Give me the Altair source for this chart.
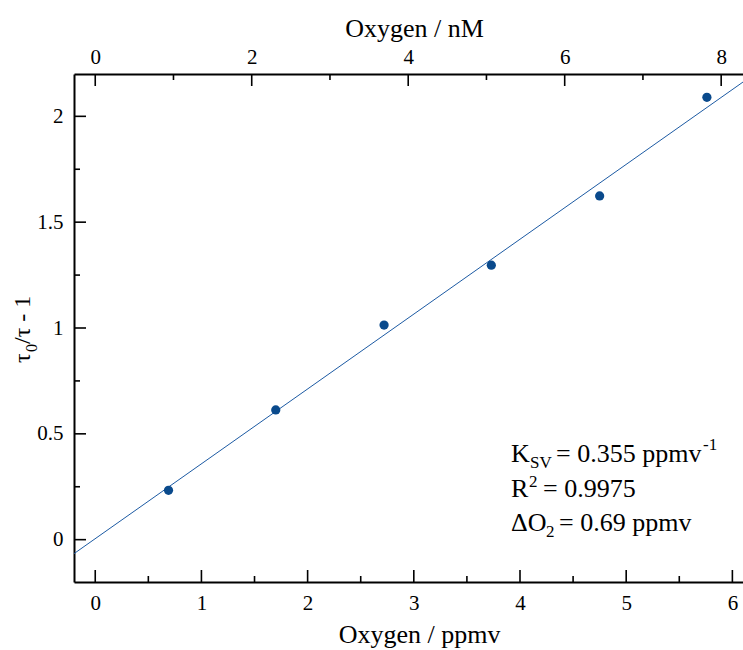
import altair as alt
import pandas as pd

# ---------------- data ----------------
ppmv = [0.69, 1.70, 2.72, 3.73, 4.75, 5.76]
ratio = [0.233, 0.613, 1.014, 1.297, 1.624, 2.090]
fit_x = [-0.2, 6.1]
fit_y = [-0.066, 2.162]

x_major = [0, 1, 2, 3, 4, 5, 6]
x_minor = [0.5, 1.5, 2.5, 3.5, 4.5, 5.5]
nm_major = [0, 2, 4, 6, 8]
nm_minor = [1, 3, 5, 7]
y_major = [0, 0.5, 1, 1.5, 2]
y_minor = [0.25, 0.75, 1.25, 1.75]

x_title = "Oxygen / ppmv"
top_title = "Oxygen / nM"
y_title_parts = ["τ", "0", "/τ - 1"]
ann_k = ["K", "SV", "= 0.355 ppmv", "-1"]
ann_r = ["R", "2", "= 0.9975"]
ann_d = ["ΔO", "2", "= 0.69 ppmv"]

X_DOMAIN = [-0.2, 6.1]
NM_PER_PPMV = 1.3572
NM_DOMAIN = [X_DOMAIN[0] * NM_PER_PPMV, X_DOMAIN[1] * NM_PER_PPMV]
Y_DOMAIN = [-0.2, 2.2]

# ---------------- styling ----------------
W, H = 669, 508
FONT = "Liberation Serif"
PT = "#0a4a8c"
LN = "#1c5aa3"
MAJ, MIN = 12, 6

xs = alt.Scale(domain=X_DOMAIN, nice=False, zero=False)
xn = alt.Scale(domain=NM_DOMAIN, nice=False, zero=False)
ys = alt.Scale(domain=Y_DOMAIN, nice=False, zero=False)

common_axis = dict(
    ticks=False, tickSize=0, grid=False, domainColor="black", domainWidth=2,
    labelFont=FONT, labelFontSize=21, labelColor="black", labelFlush=False,
    labelOverlap=False, labelBound=False, titleFont=FONT, titleFontSize=26,
    titleFontWeight="normal", titleColor="black", format="~g",
)

bottom_axis = alt.Axis(values=x_major, orient="bottom", title=x_title,
                       labelPadding=10, titleY=60, titleX=345,
                       titleAlign="center", titleBaseline="alphabetic",
                       **common_axis)
left_axis = alt.Axis(values=y_major, orient="left", title=None,
                     labelPadding=11, **common_axis)
top_axis = alt.Axis(values=nm_major, orient="top", title=top_title,
                    labelPadding=7, titleY=-38, titleX=340,
                    titleAlign="center", titleBaseline="alphabetic",
                    **common_axis)

fit = alt.Chart(pd.DataFrame({"x": fit_x, "y": fit_y})).mark_line(
    color=LN, strokeWidth=1, clip=True
).encode(
    x=alt.X("x:Q", scale=xs, axis=bottom_axis),
    y=alt.Y("y:Q", scale=ys, axis=left_axis),
)

points = alt.Chart(pd.DataFrame({"x": ppmv, "y": ratio})).mark_circle(
    size=85, opacity=1, color=PT
).encode(
    x=alt.X("x:Q", scale=xs, axis=None),
    y=alt.Y("y:Q", scale=ys, axis=None),
)


def xticks(vals, scale, length, top=False, axis=None):
    y0 = 0 if top else H
    y1 = length if top else H - length
    return alt.Chart(pd.DataFrame({"v": vals})).mark_rule(
        color="black", strokeWidth=1.6
    ).encode(
        x=alt.X("v:Q", scale=scale, axis=axis),
        y=alt.value(y0), y2=alt.value(y1),
    )


def yticks(vals, length):
    return alt.Chart(pd.DataFrame({"v": vals})).mark_rule(
        color="black", strokeWidth=1.6
    ).encode(
        y=alt.Y("v:Q", scale=ys, axis=None),
        x=alt.value(0), x2=alt.value(length),
    )


def label(txt, x, y, size, angle=0):
    return alt.Chart(pd.DataFrame({"t": [txt]})).mark_text(
        font=FONT, fontSize=size, align="left", baseline="alphabetic",
        color="black", angle=angle
    ).encode(text="t:N", x=alt.value(x), y=alt.value(y))


ox, oy = 74, 74  # plot origin on the page
A, S = 26, 17
B1, B2, B3 = 462, 497, 531  # annotation baselines (page pixels)

texts = [
    # y title (rotated)
    label(y_title_parts[0], 30 - ox, 363 - oy, 24, 270),
    label(y_title_parts[1], 37 - ox, 352 - oy, 16, 270),
    label(y_title_parts[2], 30 - ox, 344 - oy, 24, 270),
    # annotation
    label(ann_k[0], 511 - ox, B1 - oy, A),
    label(ann_k[1], 530 - ox, B1 + 6 - oy, S),
    label(ann_k[2], 556 - ox, B1 - oy, A),
    label(ann_k[3], 703 - ox, B1 - 12 - oy, S),
    label(ann_r[0], 511 - ox, B2 - oy, A),
    label(ann_r[1], 529 - ox, B2 - 10 - oy, S),
    label(ann_r[2], 543 - ox, B2 - oy, A),
    label(ann_d[0], 511 - ox, B3 - oy, A),
    label(ann_d[1], 546 - ox, B3 + 6 - oy, S),
    label(ann_d[2], 559 - ox, B3 - oy, A),
]

chart = alt.layer(
    fit,
    points,
    xticks(x_major, xs, MAJ),
    xticks(x_minor, xs, MIN),
    xticks(nm_major, xn, MAJ, top=True, axis=top_axis),
    xticks(nm_minor, xn, MIN, top=True),
    yticks(y_major, MAJ),
    yticks(y_minor, MIN),
    *texts,
).resolve_scale(
    x="independent", y="independent"
).properties(
    width=W, height=H,
    padding={"left": ox, "top": oy, "right": 0, "bottom": 650 - oy - H},
    autosize=alt.AutoSizeParams(type="none"),
    background="white",
).configure_view(stroke=None)

chart.save("out.html", embed_options={"renderer": "svg", "actions": False})
